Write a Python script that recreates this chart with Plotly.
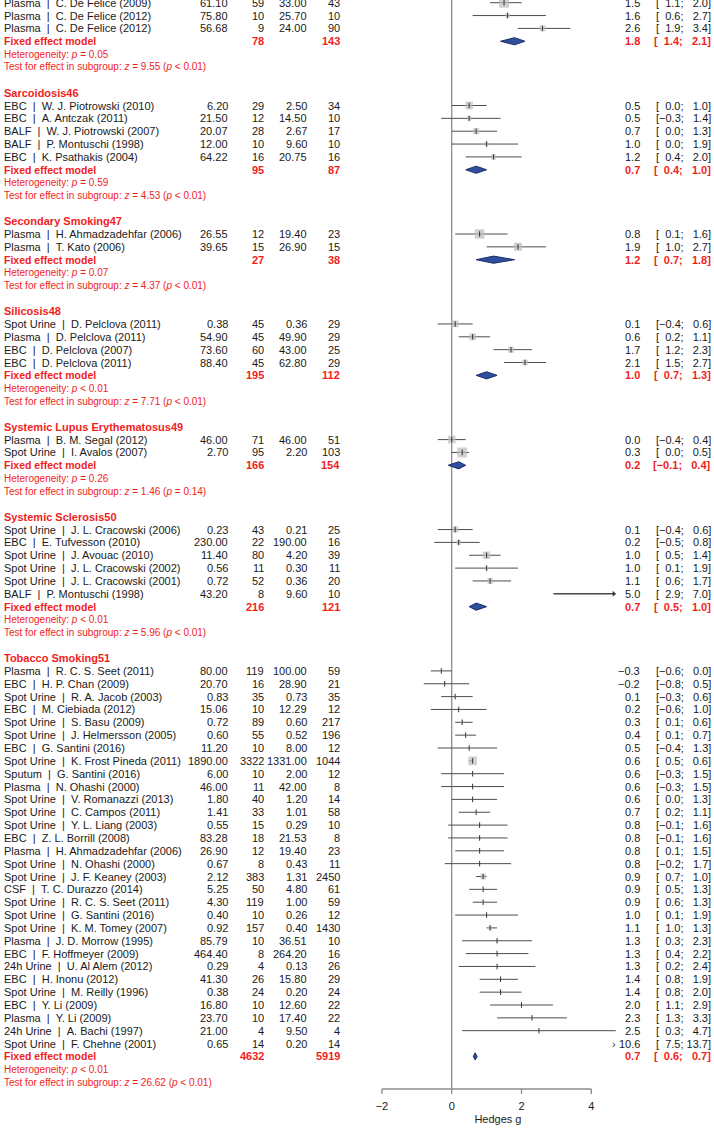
import math
import plotly.graph_objects as go

# Subgroups (the first header is cut off above the visible part)
group_names = ["", "Sarcoidosis46", "Secondary Smoking47", "Silicosis48",
               "Systemic Lupus Erythematosus49", "Systemic Sclerosis50",
               "Tobacco Smoking51"]
group_sizes = [3, 5, 2, 4, 2, 6, 30]

specimen = [
    "Plasma", "Plasma", "Plasma",
    "EBC", "EBC", "BALF", "BALF", "EBC",
    "Plasma", "Plasma",
    "Spot Urine", "Plasma", "EBC", "EBC",
    "Plasma", "Spot Urine",
    "Spot Urine", "EBC", "Spot Urine", "Spot Urine", "Spot Urine", "BALF",
    "Plasma", "EBC", "Spot Urine", "EBC", "Spot Urine", "Spot Urine", "EBC",
    "Spot Urine", "Sputum", "Plasma", "Spot Urine", "Spot Urine", "Spot Urine",
    "EBC", "Plasma", "Spot Urine", "Spot Urine", "CSF", "Spot Urine",
    "Spot Urine", "Spot Urine", "Plasma", "EBC", "24h Urine", "EBC",
    "Spot Urine", "EBC", "Plasma", "24h Urine", "Spot Urine",
]
study = [
    "C. De Felice (2009)", "C. De Felice (2012)", "C. De Felice (2012)",
    "W. J. Piotrowski (2010)", "A. Antczak (2011)", "W. J. Piotrowski (2007)",
    "P. Montuschi (1998)", "K. Psathakis (2004)",
    "H. Ahmadzadehfar (2006)", "T. Kato (2006)",
    "D. Pelclova (2011)", "D. Pelclova (2011)", "D. Pelclova (2007)",
    "D. Pelclova (2011)",
    "B. M. Segal (2012)", "I. Avalos (2007)",
    "J. L. Cracowski (2006)", "E. Tufvesson (2010)", "J. Avouac (2010)",
    "J. L. Cracowski (2002)", "J. L. Cracowski (2001)", "P. Montuschi (1998)",
    "R. C. S. Seet (2011)", "H. P. Chan (2009)", "R. A. Jacob (2003)",
    "M. Ciebiada (2012)", "S. Basu (2009)", "J. Helmersson (2005)",
    "G. Santini (2016)", "K. Frost Pineda (2011)", "G. Santini (2016)",
    "N. Ohashi (2000)", "V. Romanazzi (2013)", "C. Campos (2011)",
    "Y. L. Liang (2003)", "Z. L. Borrill (2008)", "H. Ahmadzadehfar (2006)",
    "N. Ohashi (2000)", "J. F. Keaney (2003)", "T. C. Durazzo (2014)",
    "R. C. S. Seet (2011)", "G. Santini (2016)", "K. M. Tomey (2007)",
    "J. D. Morrow (1995)", "F. Hoffmeyer (2009)", "U. Al Alem (2012)",
    "H. Inonu (2012)", "M. Reilly (1996)", "Y. Li (2009)", "Y. Li (2009)",
    "A. Bachi (1997)", "F. Chehne (2001)",
]
mean_e = [61.10, 75.80, 56.68,
          6.20, 21.50, 20.07, 12.00, 64.22,
          26.55, 39.65,
          0.38, 54.90, 73.60, 88.40,
          46.00, 2.70,
          0.23, 230.00, 11.40, 0.56, 0.72, 43.20,
          80.00, 20.70, 0.83, 15.06, 0.72, 0.60, 11.20, 1890.00, 6.00, 46.00,
          1.80, 1.41, 0.55, 83.28, 26.90, 0.67, 2.12, 5.25, 4.30, 0.40, 0.92,
          85.79, 464.40, 0.29, 41.30, 0.38, 16.80, 23.70, 21.00, 0.65]
n_e = [59, 10, 9,
       29, 12, 28, 10, 16,
       12, 15,
       45, 45, 60, 45,
       71, 95,
       43, 22, 80, 11, 52, 8,
       119, 16, 35, 10, 89, 55, 10, 3322, 10, 11, 40, 33, 15, 18, 12, 8,
       383, 50, 119, 10, 157, 10, 8, 4, 26, 24, 10, 10, 4, 14]
mean_c = [33.00, 25.70, 24.00,
          2.50, 14.50, 2.67, 9.60, 20.75,
          19.40, 26.90,
          0.36, 49.90, 43.00, 62.80,
          46.00, 2.20,
          0.21, 190.00, 4.20, 0.30, 0.36, 9.60,
          100.00, 28.90, 0.73, 12.29, 0.60, 0.52, 8.00, 1331.00, 2.00, 42.00,
          1.20, 1.01, 0.29, 21.53, 19.40, 0.43, 1.31, 4.80, 1.00, 0.26, 0.40,
          36.51, 264.20, 0.13, 15.80, 0.20, 12.60, 17.40, 9.50, 0.20]
n_c = [43, 10, 90,
       34, 10, 17, 10, 16,
       23, 15,
       29, 29, 25, 29,
       51, 103,
       25, 16, 39, 11, 20, 10,
       59, 21, 35, 12, 217, 196, 12, 1044, 12, 8, 14, 58, 10, 8, 23, 11,
       2450, 61, 59, 12, 1430, 10, 16, 26, 29, 24, 22, 22, 4, 14]
hedges_g = [1.5, 1.6, 2.6,
            0.5, 0.5, 0.7, 1.0, 1.2,
            0.8, 1.9,
            0.1, 0.6, 1.7, 2.1,
            0.0, 0.3,
            0.1, 0.2, 1.0, 1.0, 1.1, 5.0,
            -0.3, -0.2, 0.1, 0.2, 0.3, 0.4, 0.5, 0.6, 0.6, 0.6, 0.6, 0.7,
            0.8, 0.8, 0.8, 0.8, 0.9, 0.9, 0.9, 1.0, 1.1, 1.3, 1.3, 1.3, 1.4,
            1.4, 2.0, 2.3, 2.5, 10.6]
ci_lo = [1.1, 0.6, 1.9,
         0.0, -0.3, 0.0, 0.0, 0.4,
         0.1, 1.0,
         -0.4, 0.2, 1.2, 1.5,
         -0.4, 0.0,
         -0.4, -0.5, 0.5, 0.1, 0.6, 2.9,
         -0.6, -0.8, -0.3, -0.6, 0.1, 0.1, -0.4, 0.5, -0.3, -0.3, 0.0, 0.2,
         -0.1, -0.1, 0.1, -0.2, 0.7, 0.5, 0.6, 0.1, 1.0, 0.3, 0.4, 0.2, 0.8,
         0.8, 1.1, 1.3, 0.3, 7.5]
ci_hi = [2.0, 2.7, 3.4,
         1.0, 1.4, 1.3, 1.9, 2.0,
         1.6, 2.7,
         0.6, 1.1, 2.3, 2.7,
         0.4, 0.5,
         0.6, 0.8, 1.4, 1.9, 1.7, 7.0,
         0.0, 0.5, 0.6, 1.0, 0.6, 0.7, 1.3, 0.6, 1.5, 1.5, 1.3, 1.1,
         1.6, 1.6, 1.5, 1.7, 1.0, 1.3, 1.3, 1.9, 1.3, 2.3, 2.2, 2.4, 1.9,
         2.0, 2.9, 3.3, 4.7, 13.7]

# Fixed effect model per subgroup
fixed_n_e = [78, 95, 27, 195, 166, 216, 4632]
fixed_n_c = [143, 87, 38, 112, 154, 121, 5919]
fixed_g = [1.8, 0.7, 1.2, 1.0, 0.2, 0.7, 0.67]
fixed_lo = [1.4, 0.4, 0.7, 0.7, -0.1, 0.5, 0.62]
fixed_hi = [2.1, 1.0, 1.8, 1.3, 0.4, 1.0, 0.73]
het_p = ["= 0.05", "= 0.59", "= 0.07", "< 0.01", "= 0.26", "< 0.01", "< 0.01"]
test_z = ["9.55", "4.53", "4.37", "7.71", "1.46", "5.96", "26.62"]
test_p = ["< 0.01", "< 0.01", "< 0.01", "< 0.01", "= 0.14", "< 0.01", "< 0.01"]

x_ticks = [-2, 0, 2, 4]

# page geometry (pixels)
W, H = 714, 1128
X0_PX, UNIT_PX = 451.7, 34.9
ROW_Y0, ROW_H = 2.7, 12.85
AXIS_PX, TICK_PX = 1089, 5
X_MIN, X_MAX, X_LIM = -2.15, 4.8, 4.7

RED = "#f21d1d"
INK = "#1a1a1a"
GREY = "#8c8c8c"
NB = "\u00a0"
FS = "\u2007"   # figure space, pads numbers like R's format()


def num(v, d=1):
    return f"{v:.{d}f}".replace("-", "\u2212")


def pad(v, width=4):
    s = num(v)
    return FS * (width - len(s)) + s


def ci_text(lo, hi):
    return "[" + pad(lo) + "; " + pad(hi) + "]"


def px_to_row(y_px):
    return (y_px - ROW_Y0) / ROW_H


# row index of every line of the table
study_group, study_row, header_row, fixed_row = [], [], [], []
r = 0
for gi, name in enumerate(group_names):
    header_row.append(r if name else None)
    if name:
        r += 1
    for _ in range(group_sizes[gi]):
        study_group.append(gi)
        study_row.append(r)
        r += 1
    fixed_row.append(r)
    r += 4

# square size from the fixed effect weight inside the subgroup
weights = [1 / (1 / a + 1 / b + e * e / (2 * (a + b)))
           for a, b, e in zip(n_e, n_c, hedges_g)]
group_w = [0] * len(group_names)
for gi, w in zip(study_group, weights):
    group_w[gi] += w
sq_size = [1.25 * math.sqrt(100 * w / group_w[gi])
           for gi, w in zip(study_group, weights)]

fig = go.Figure()

# zero line, x axis line and ticks
top_row = px_to_row(0)
axis_row = px_to_row(AXIS_PX)
tick_row = px_to_row(AXIS_PX + TICK_PX)
ax_x = [0, 0, None, x_ticks[0], x_ticks[-1], None]
ax_y = [top_row, axis_row, None, axis_row, axis_row, None]
for t in x_ticks:
    ax_x += [t, t, None]
    ax_y += [axis_row, tick_row, None]
fig.add_trace(go.Scatter(x=ax_x, y=ax_y, mode="lines",
                         line=dict(color=GREY, width=1.3), hoverinfo="skip"))

# confidence interval lines
cx, cy = [], []
for lo, hi, row in zip(ci_lo, ci_hi, study_row):
    if lo >= X_LIM:
        continue
    cx += [lo, min(hi, X_LIM), None]
    cy += [row, row, None]
fig.add_trace(go.Scatter(x=cx, y=cy, mode="lines",
                         line=dict(color="#4d4d4d", width=1),
                         hoverinfo="skip"))

# squares
inside = [i for i, v in enumerate(hedges_g) if v < X_LIM]
fig.add_trace(go.Scatter(
    x=[hedges_g[i] for i in inside], y=[study_row[i] for i in inside],
    mode="markers",
    marker=dict(symbol="square", size=[sq_size[i] for i in inside],
                color="#bdbdbd", line=dict(width=0)),
    hoverinfo="skip"))
fig.add_trace(go.Scatter(
    x=[hedges_g[i] for i in inside], y=[study_row[i] for i in inside],
    mode="markers",
    marker=dict(symbol="line-ns", size=4,
                line=dict(color="#333333", width=1)),
    hoverinfo="skip"))

# diamonds
for gi in range(len(group_names)):
    row = fixed_row[gi]
    fig.add_trace(go.Scatter(
        x=[fixed_lo[gi], fixed_g[gi], fixed_hi[gi], fixed_g[gi], fixed_lo[gi]],
        y=[row, row - 0.28, row, row + 0.28, row],
        mode="lines", fill="toself", fillcolor="#2f4e9e",
        line=dict(color="#1c2f66", width=1), hoverinfo="skip"))

ann = []


def cell(x_px, row, text, anchor="left", color=INK, size=11):
    ann.append(dict(x=x_px / W, xref="paper", y=row, yref="y", text=text,
                    showarrow=False, xanchor=anchor, yanchor="middle",
                    font=dict(color=color, size=size)))


for i, row in enumerate(study_row):
    cell(2, row, specimen[i] + NB + NB + "|" + NB + NB + study[i])
    cell(230, row, f"{mean_e[i]:.2f}", "right")
    cell(266, row, str(n_e[i]), "right")
    cell(309, row, f"{mean_c[i]:.2f}", "right")
    cell(342, row, str(n_c[i]), "right")
    cell(642, row, num(hedges_g[i]), "right")
    cell(713, row, ci_text(ci_lo[i], ci_hi[i]), "right")

for gi, name in enumerate(group_names):
    if name:
        cell(2, header_row[gi], f"<b>{name}</b>", color=RED)
    row = fixed_row[gi]
    cell(2, row, "<b>Fixed effect model</b>", color=RED, size=10.5)
    cell(266, row, f"<b>{fixed_n_e[gi]}</b>", "right", RED)
    cell(342, row, f"<b>{fixed_n_c[gi]}</b>", "right", RED)
    cell(642, row, f"<b>{num(fixed_g[gi])}</b>", "right", RED)
    cell(713, row, f"<b>{ci_text(fixed_lo[gi], fixed_hi[gi])}</b>", "right", RED)
    cell(2, row + 1, f"Heterogeneity: <i>p</i> {het_p[gi]}", color=RED, size=10)
    cell(2, row + 2, f"Test for effect in subgroup: <i>z</i> = {test_z[gi]} "
                     f"(<i>p</i> {test_p[gi]})", color=RED, size=10)

# arrows for intervals running past the plotted range
for lo, hi, row in zip(ci_lo, ci_hi, study_row):
    if hi <= X_LIM:
        continue
    if lo < X_LIM:
        ann.append(dict(x=X_LIM, y=row, ax=lo, ay=row, xref="x", yref="y",
                        axref="x", ayref="y", text="", showarrow=True,
                        arrowhead=1, arrowsize=1, arrowwidth=1,
                        arrowcolor="#333333"))
    else:
        ann.append(dict(x=X_LIM - 0.05, y=row, xref="x", yref="y", text="›",
                        showarrow=False, xanchor="center", yanchor="middle",
                        font=dict(size=11, color="#333333")))

# plot area reaches down to the tick ends so the ticks are not clipped
bottom_px = AXIS_PX + TICK_PX
fig.update_layout(
    width=W, height=H, margin=dict(l=0, r=0, t=0, b=0),
    paper_bgcolor="white", plot_bgcolor="white", showlegend=False,
    hovermode=False, dragmode=False,
    font=dict(family="Liberation Sans, Arial, sans-serif", size=11, color=INK),
    annotations=ann,
    xaxis=dict(domain=[(X0_PX + X_MIN * UNIT_PX) / W,
                       (X0_PX + X_MAX * UNIT_PX) / W],
               range=[X_MIN, X_MAX], tickvals=x_ticks, ticks="",
               showgrid=False, zeroline=False, showline=False,
               ticklabelstandoff=4, showspikes=False, fixedrange=True,
               tickfont=dict(size=11, color=INK),
               title=dict(text="Hedges g", standoff=4,
                          font=dict(size=11, color=INK))),
    yaxis=dict(domain=[(H - bottom_px) / H, 1],
               range=[px_to_row(bottom_px), top_row],
               showline=False, zeroline=False, showgrid=False,
               showticklabels=False, ticks="", showspikes=False,
               fixedrange=True),
)

# the page body keeps its default 8px margin otherwise
fig.write_html("out.html", config={"displayModeBar": False,
                                   "staticPlot": True},
               post_script="document.body.style.margin = '0';")
